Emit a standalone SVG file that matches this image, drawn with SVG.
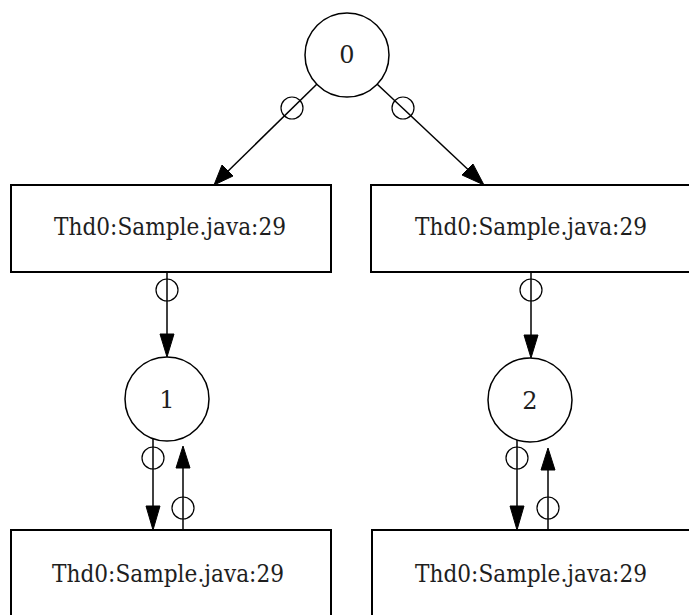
<svg xmlns="http://www.w3.org/2000/svg" width="689" height="615" viewBox="0 0 689 615">
  <style>
    .box { fill: #ffffff; stroke: #000000; stroke-width: 2; }
    .state { fill: #ffffff; stroke: #000000; stroke-width: 1.5; }
    .lbl { font-family: 'DejaVu Serif', 'Liberation Serif', serif; font-size: 24px; fill: #1e1e1e; text-anchor: middle; }
    .edge { stroke: #000000; stroke-width: 1.5; fill: none; }
    .tail { fill: none; stroke: #000000; stroke-width: 1.2; }
    .head { fill: #000000; stroke: #000000; stroke-width: 1; }
  </style>
  <rect width="689" height="615" fill="#ffffff"/>

  <!-- states -->
  <g id="n0">
    <circle class="state" cx="347" cy="55" r="42"/>
    <text class="lbl" x="347" y="63">0</text>
  </g>
  <g id="n1">
    <circle class="state" cx="167" cy="399" r="42"/>
    <text class="lbl" x="167" y="408">1</text>
  </g>
  <g id="n2">
    <circle class="state" cx="530" cy="400" r="42"/>
    <text class="lbl" x="530" y="409">2</text>
  </g>

  <!-- source locations -->
  <g id="loc-a">
    <rect class="box" x="11" y="185" width="320" height="87"/>
    <text class="lbl" x="170" y="235" textLength="232" lengthAdjust="spacingAndGlyphs">Thd0:Sample.java:29</text>
  </g>
  <g id="loc-b">
    <rect class="box" x="371" y="185" width="330" height="87"/>
    <text class="lbl" x="531" y="235" textLength="232" lengthAdjust="spacingAndGlyphs">Thd0:Sample.java:29</text>
  </g>
  <g id="loc-c">
    <rect class="box" x="11" y="530" width="320" height="100"/>
    <text class="lbl" x="168" y="582" textLength="232" lengthAdjust="spacingAndGlyphs">Thd0:Sample.java:29</text>
  </g>
  <g id="loc-d">
    <rect class="box" x="372" y="530" width="330" height="100"/>
    <text class="lbl" x="531" y="582" textLength="232" lengthAdjust="spacingAndGlyphs">Thd0:Sample.java:29</text>
  </g>

  <!-- transitions -->
  <g id="edges">
    <!-- 0 -> left location -->
    <line class="edge" x1="317" y1="84" x2="222" y2="177"/>
    <circle class="tail" cx="292" cy="108" r="11"/>
    <polygon class="head" points="214,185 222,165 233,176"/>
    <!-- 0 -> right location -->
    <line class="edge" x1="377" y1="84" x2="476" y2="177"/>
    <circle class="tail" cx="403" cy="108" r="11"/>
    <polygon class="head" points="484,185 462,175 473,164"/>

    <!-- left location -> 1 -->
    <line class="edge" x1="167" y1="272" x2="167" y2="340"/>
    <circle class="tail" cx="167" cy="290" r="11"/>
    <polygon class="head" points="167,357 160,334 174,334"/>
    <!-- right location -> 2 -->
    <line class="edge" x1="531" y1="272" x2="531" y2="340"/>
    <circle class="tail" cx="531" cy="290" r="11"/>
    <polygon class="head" points="531,358 524,335 538,335"/>

    <!-- 1 -> lower left location -->
    <line class="edge" x1="153" y1="439" x2="153" y2="515"/>
    <circle class="tail" cx="153" cy="458" r="11"/>
    <polygon class="head" points="153,530 146,506 160,506"/>
    <!-- lower left location -> 1 -->
    <line class="edge" x1="183" y1="530" x2="183" y2="462"/>
    <circle class="tail" cx="183" cy="508" r="11"/>
    <polygon class="head" points="183,446 176,468 190,468"/>

    <!-- 2 -> lower right location -->
    <line class="edge" x1="517" y1="440" x2="517" y2="515"/>
    <circle class="tail" cx="517" cy="458" r="11"/>
    <polygon class="head" points="517,530 510,506 524,506"/>
    <!-- lower right location -> 2 -->
    <line class="edge" x1="548" y1="530" x2="548" y2="462"/>
    <circle class="tail" cx="548" cy="508" r="11"/>
    <polygon class="head" points="548,448 541,470 555,470"/>
  </g>
</svg>
